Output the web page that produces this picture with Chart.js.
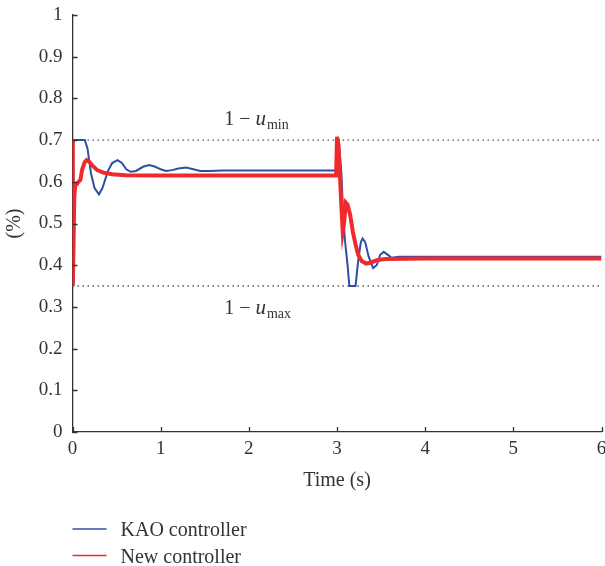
<!DOCTYPE html>
<html>
<head>
<meta charset="utf-8">
<title>Controller response</title>
<script src="https://cdn.jsdelivr.net/npm/chart.js@4"></script>
<style>
  html, body { margin: 0; padding: 0; background: #ffffff; }
  #wrap { width: 605px; height: 566px; }
</style>
</head>
<body>
<div id="wrap"><canvas id="chart" width="605" height="566"></canvas></div>
<script>
// Time samples (s) and duty ratio (1 - u) for the KAO controller
const kaoTime = [0, 0.14, 0.17, 0.21, 0.25, 0.30, 0.34, 0.40, 0.45, 0.51, 0.56, 0.61, 0.66, 0.72, 0.80,
  0.87, 0.94, 1.00, 1.06, 1.13, 1.20, 1.29, 1.37, 1.45, 1.55, 1.70, 2.00, 2.50, 2.99,
  3.00, 3.02, 3.05, 3.07, 3.09, 3.12, 3.14, 3.21, 3.24, 3.27, 3.29, 3.32, 3.36, 3.41, 3.45,
  3.49, 3.53, 3.57, 3.62, 3.70, 4.00, 5.00, 6.00];
const kaoValue = [0.70, 0.70, 0.68, 0.62, 0.585, 0.570, 0.585, 0.625, 0.645, 0.652, 0.645, 0.630, 0.624, 0.626, 0.636,
  0.640, 0.636, 0.630, 0.626, 0.628, 0.632, 0.634, 0.630, 0.626, 0.626, 0.627, 0.627, 0.627, 0.627,
  0.70, 0.70, 0.62, 0.52, 0.46, 0.40, 0.35, 0.35, 0.41, 0.455, 0.464, 0.455, 0.42, 0.393, 0.40,
  0.425, 0.432, 0.426, 0.418, 0.420, 0.420, 0.420, 0.420];

// Time samples (s) and duty ratio (1 - u) for the new controller
const newTime = [0, 0.004, 0.02, 0.03, 0.05, 0.07, 0.09, 0.11, 0.14, 0.16, 0.19, 0.23, 0.28, 0.35, 0.45,
  0.60, 1.00, 2.00, 2.99,
  3.00, 3.015, 3.03, 3.05, 3.065, 3.08, 3.10, 3.12, 3.15, 3.18, 3.21, 3.24, 3.28, 3.33, 3.38,
  3.45, 3.55, 4.00, 5.00, 6.00];
const newValue = [0.70, 0.35, 0.56, 0.59, 0.595, 0.60, 0.605, 0.63, 0.648, 0.652, 0.648, 0.638, 0.628, 0.622, 0.618,
  0.616, 0.615, 0.615, 0.615,
  0.708, 0.69, 0.63, 0.54, 0.48, 0.50, 0.55, 0.545, 0.52, 0.48, 0.45, 0.425, 0.41, 0.404, 0.406,
  0.412, 0.415, 0.416, 0.416, 0.416];

// Duty-ratio limits
const boundTime = [0, 6];
const upperBound = 0.70; // 1 - u_min
const lowerBound = 0.35; // 1 - u_max

// Axis ticks
const xTicks = [0, 1, 2, 3, 4, 5, 6];
const yTicks = [0, 0.1, 0.2, 0.3, 0.4, 0.5, 0.6, 0.7, 0.8, 0.9, 1];

const SERIF = "'Liberation Serif', 'Times New Roman', serif";
const INK = '#333333';
const BLUE = '#2f4fa6';
const RED = '#f02a2c';

const toPoints = (ts, vs) => ts.map((t, i) => ({ x: t, y: vs[i] }));
const fmt = v => String(+Number(v).toFixed(2));

// Inward tick marks on both axes
const innerTicks = {
  id: 'innerTicks',
  afterDraw(chart) {
    const { ctx, chartArea, scales } = chart;
    ctx.save();
    ctx.strokeStyle = INK;
    ctx.lineWidth = 1.3;
    ctx.beginPath();
    yTicks.forEach(v => {
      const py = Math.round(scales.y.getPixelForValue(v)) + 0.5;
      ctx.moveTo(chartArea.left, py);
      ctx.lineTo(chartArea.left + 5, py);
    });
    xTicks.forEach(v => {
      const px = Math.round(scales.x.getPixelForValue(v)) + 0.5;
      ctx.moveTo(px, chartArea.bottom);
      ctx.lineTo(px, chartArea.bottom - 5);
    });
    ctx.stroke();
    ctx.restore();
  }
};

// Labels for the two limit lines: 1 − u_min and 1 − u_max
const boundLabels = {
  id: 'boundLabels',
  afterDatasetsDraw(chart) {
    const { ctx, scales } = chart;
    const drawLabel = (x, y, sub) => {
      ctx.fillStyle = INK;
      ctx.textBaseline = 'alphabetic';
      ctx.textAlign = 'left';
      ctx.font = `20px ${SERIF}`;
      const lead = '1 \u2212 ';
      ctx.fillText(lead, x, y);
      let cx = x + ctx.measureText(lead).width;
      ctx.font = `italic 21px ${SERIF}`;
      ctx.fillText('u', cx, y);
      cx += ctx.measureText('u').width + 1;
      ctx.font = `14px ${SERIF}`;
      ctx.fillText(sub, cx, y + 4);
    };
    const x0 = scales.x.getPixelForValue(1.72);
    drawLabel(x0, scales.y.getPixelForValue(upperBound) - 15, 'min');
    drawLabel(x0, scales.y.getPixelForValue(lowerBound) + 28, 'max');
  }
};

// Stacked legend below the plot
const stackedLegend = {
  id: 'stackedLegend',
  afterDraw(chart) {
    const { ctx, chartArea } = chart;
    const items = chart.data.datasets.filter(d => d.inLegend);
    ctx.save();
    ctx.font = `20px ${SERIF}`;
    ctx.textAlign = 'left';
    ctx.textBaseline = 'alphabetic';
    items.forEach((d, i) => {
      const y = 529 + i * 26.5;
      ctx.strokeStyle = d.borderColor;
      ctx.lineWidth = 1.6;
      ctx.beginPath();
      ctx.moveTo(chartArea.left, y);
      ctx.lineTo(chartArea.left + 34, y);
      ctx.stroke();
      ctx.fillStyle = INK;
      ctx.fillText(d.label, chartArea.left + 48, y + 7);
    });
    ctx.restore();
  }
};

new Chart(document.getElementById('chart'), {
  type: 'line',
  data: {
    datasets: [
      {
        label: 'KAO controller',
        data: toPoints(kaoTime, kaoValue),
        borderColor: BLUE,
        borderWidth: 2,
        pointRadius: 0,
        tension: 0,
        order: 1,
        inLegend: true
      },
      {
        label: 'New controller',
        data: toPoints(newTime, newValue),
        borderColor: RED,
        borderWidth: 4,
        pointRadius: 0,
        tension: 0,
        order: 0,
        inLegend: true
      },
      {
        label: 'upper limit',
        data: boundTime.map(t => ({ x: t, y: upperBound })),
        borderColor: '#555555',
        borderWidth: 1.4,
        borderDash: [1.5, 3.5],
        pointRadius: 0,
        order: 2
      },
      {
        label: 'lower limit',
        data: boundTime.map(t => ({ x: t, y: lowerBound })),
        borderColor: '#555555',
        borderWidth: 1.4,
        borderDash: [1.5, 3.5],
        pointRadius: 0,
        order: 2
      }
    ]
  },
  options: {
    responsive: false,
    animation: false,
    devicePixelRatio: 1,
    layout: { padding: { top: 15, right: 3.5, bottom: 64, left: 0 } },
    plugins: {
      legend: { display: false },
      tooltip: { enabled: false }
    },
    scales: {
      x: {
        type: 'linear',
        min: 0,
        max: 6,
        afterBuildTicks: s => { s.ticks = xTicks.map(v => ({ value: v })); },
        afterFit: s => { s.height = 70; s.paddingRight = 0; s.paddingLeft = 0; },
        grid: { display: false, drawTicks: false },
        border: { display: true, color: INK, width: 1.3 },
        ticks: { color: INK, padding: 6, font: { family: SERIF, size: 19 }, callback: fmt },
        title: {
          display: true,
          text: 'Time (s)',
          color: INK,
          font: { family: SERIF, size: 20 },
          padding: { top: 0, bottom: 9 }
        }
      },
      y: {
        type: 'linear',
        min: 0,
        max: 1,
        afterBuildTicks: s => { s.ticks = yTicks.map(v => ({ value: v })); },
        afterFit: s => { s.width = 72.5; s.paddingTop = 0; s.paddingBottom = 0; },
        grid: { display: false, drawTicks: false },
        border: { display: true, color: INK, width: 1.3 },
        ticks: { color: INK, padding: 10, font: { family: SERIF, size: 19 }, callback: fmt },
        title: {
          display: true,
          text: '(%)',
          color: INK,
          font: { family: SERIF, size: 20 },
          padding: { top: 3, bottom: 0 }
        }
      }
    }
  },
  plugins: [innerTicks, boundLabels, stackedLegend]
});
</script>
</body>
</html>
